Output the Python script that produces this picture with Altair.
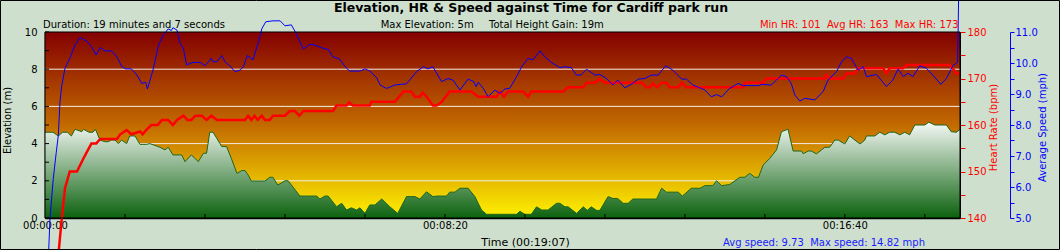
import altair as alt
import pandas as pd

W, H = 915, 186
X_MAX = 1144
FONT = "DejaVu Sans"

# ---------------- data ----------------
elev_t = [0, 10, 16.7, 22, 28, 33, 37.5, 46, 48, 55, 60, 63, 68.75, 75, 79, 83, 87.5, 91.7, 95.8, 102,
          106, 112.5, 118.75, 127, 131, 137.5, 143.75, 150, 154, 160, 171, 175, 183, 191.7, 198, 202,
          206, 210, 214.6, 221, 227, 233, 240, 246, 250, 254, 258, 275, 281, 285, 291, 300, 304,
          318.75, 339.6, 343.75, 350, 354, 364.6, 371, 377, 383, 389.6, 393.75, 400, 406, 412.5, 421,
          431, 441, 452, 462.5, 468.75, 477, 485, 489.6, 502, 506, 512.5, 518.75, 529, 537.5, 545.8,
          552, 589.6, 593.75, 600, 608, 614.6, 621, 629, 639.6, 643.75, 650, 654, 664.6, 673, 678,
          683, 689.6, 693.75, 704, 710, 716, 723, 729, 735, 764.6, 771, 777, 791.7, 797, 808, 819,
          825, 835, 839.6, 846, 856, 868.75, 875, 881, 887.5, 892, 898, 906, 914.6, 920.8, 929,
          935.4, 945.8, 948, 954, 958, 964.6, 975, 981, 987.5, 991.7, 1000, 1006, 1019, 1025, 1027,
          1037.5, 1043.75, 1050, 1056, 1062.5, 1068.75, 1075, 1081, 1087.5, 1100, 1105, 1112.5,
          1127, 1133, 1139.6, 1144]
elev_v = [4.61, 4.61, 4.41, 4.61, 4.61, 4.41, 4.77, 4.64, 4.77, 4.61, 4.61, 4.77, 4.19, 4.1, 4.1, 4.19,
          4.19, 4.0, 4.19, 4.0, 4.41, 4.41, 3.96, 3.96, 4.0, 3.9, 3.8, 3.66, 3.8, 3.39, 3.39, 3.03,
          3.39, 3.03, 3.48, 3.48, 4.61, 4.61, 4.3, 3.84, 3.84, 3.2, 2.4, 2.55, 2.55, 2.31, 1.99, 1.99,
          2.19, 2.19, 1.77, 2.0, 2.0, 1.18, 1.18, 1.02, 1.18, 1.18, 0.61, 0.79, 0.43, 0.55, 0.43,
          0.55, 0.25, 0.7, 0.7, 1.02, 0.61, 0.25, 1.15, 1.15, 1.02, 1.41, 1.15, 1.18, 1.18, 1.39,
          1.39, 1.6, 1.6, 1.15, 0.43, 0.2, 0.2, 0.36, 0.2, 0.2, 0.6, 0.43, 0.43, 0.79, 0.79, 0.6,
          0.6, 0.25, 0.6, 0.41, 0.6, 0.41, 0.41, 1.15, 1.05, 1.05, 0.79, 0.79, 1.02, 1.02, 1.6, 1.39,
          1.39, 1.18, 1.6, 1.6, 1.74, 1.74, 2.0, 1.74, 1.8, 2.19, 2.19, 2.4, 2.19, 2.19, 2.85, 3.2,
          3.66, 4.64, 4.77, 3.6, 3.6, 3.45, 3.6, 3.6, 3.45, 3.8, 3.8, 4.19, 4.19, 3.98, 4.41, 3.98,
          4.19, 4.41, 4.41, 4.61, 4.47, 4.61, 4.61, 4.47, 4.61, 4.47, 5.0, 5.0, 5.15, 5.0, 5.0,
          4.64, 4.61, 4.77]

hr_t = [0, 21, 25, 31, 40, 48, 58, 64, 69, 90, 94, 102, 108, 119, 122, 127, 133, 141, 146, 154, 160,
        165, 173, 178, 183, 188, 196, 202, 208, 215, 250, 254, 258, 262, 266, 271, 275, 281, 285,
        300, 306, 312.5, 318, 323, 360, 364.6, 377, 380, 385, 406, 408, 437.5, 448, 458, 462.5,
        469, 472, 477, 485, 489.6, 496, 506, 533, 541.7, 564.6, 568.75, 573.75, 579, 598, 604, 608,
        648, 654, 673, 677, 687.5, 693, 700, 746, 752, 756, 760, 765, 771, 777, 781, 791.7, 796,
        802, 873, 875, 898, 902, 975, 977, 981, 998, 1002, 1012.5, 1016.7, 1048, 1052, 1056,
        1073, 1077, 1131, 1135, 1139, 1144]
hr_v = [101, 140, 146.4, 150, 150, 152.8, 156, 156, 157, 157, 158, 158.9, 158, 158.6, 158, 159, 160,
        160, 161.1, 161.1, 160, 161.1, 162, 161.1, 161.1, 162, 162, 161.1, 162, 161.1, 161.1, 162,
        161.1, 162, 161.1, 162, 161.1, 161.1, 162, 162, 163, 163, 162, 163, 163, 164.2, 164.2,
        164.9, 164.2, 164.2, 165, 165, 167.2, 167.2, 166.1, 166.1, 167, 166.1, 164.2, 164.2, 165,
        167.2, 167.2, 166.1, 166.1, 167.2, 166.1, 167.2, 167.2, 166.1, 167.2, 167.2, 168.1, 168.1,
        169.1, 169.1, 169.9, 169.1, 169.1, 168.1, 168.1, 169, 168.1, 169.1, 169.1, 168.1, 168.1,
        169.1, 168.1, 168.1, 169.1, 169.1, 170, 170, 170.8, 170, 170, 171.1, 171.1, 172.2, 172.2,
        171.1, 172.2, 172.2, 172.9, 172.9, 172.2, 171.1, 171.1]

spd_t = [0, 6.25, 10.4, 14, 16.7, 18.75, 20.8, 25, 31, 37.5, 43.75, 52, 58, 64, 69, 75, 83, 90, 96,
         101, 108, 115, 121, 126, 128, 135, 142, 148, 154, 158, 160, 165, 169, 173, 177, 185, 194,
         200, 208, 210, 215, 221, 225, 231, 237.5, 244, 248, 253, 260, 267, 271, 276, 285, 294,
         300, 308, 313, 323, 331, 337, 348, 354, 360, 368, 377, 381, 393.75, 400, 406, 414.6, 419,
         427, 437.5, 452, 464.6, 473, 479, 485, 495.8, 504, 510, 518.75, 529, 536, 539, 541.7, 548,
         554, 562.5, 568.75, 575, 581, 589.6, 596, 604, 610, 619, 625, 633, 643.75, 650, 658,
         664.6, 670, 677, 687.5, 693.75, 702, 710, 716, 725, 733, 741.7, 750, 758, 766.7, 776,
         785, 796, 802, 810, 825, 833, 839.6, 846, 856, 866.7, 873, 892, 896, 908, 914.6, 920.8,
         927, 933, 937.5, 943.75, 950, 962.5, 973, 979, 989.6, 996, 1002, 1008, 1016.7, 1023,
         1027, 1039.6, 1052, 1060, 1066.7, 1073, 1079, 1085, 1093.75, 1102, 1110, 1120, 1127,
         1135, 1141, 1144]
spd_v = [1.0, 5.0, 6.28, 7.1, 7.68, 8.75, 9.24, 9.83, 10.15, 10.58, 10.82, 10.71, 10.53, 10.26, 10.5,
         10.39, 10.39, 10.2, 9.88, 9.81, 9.81, 9.61, 9.34, 9.38, 9.16, 9.77, 10.58, 10.9, 11.1,
         11.05, 11.14, 11.06, 10.63, 10.47, 9.94, 10.02, 10.02, 9.91, 10.15, 10.04, 10.04, 10.24,
         10.04, 9.91, 9.72, 9.77, 9.88, 10.24, 10.1, 10.69, 11.1, 11.33, 11.36, 11.36, 11.2, 11.23,
         11.0, 10.45, 10.6, 10.58, 10.47, 10.44, 10.2, 10.13, 9.83, 9.74, 9.74, 9.81, 9.74, 9.53,
         9.29, 9.18, 9.29, 9.33, 9.72, 9.88, 9.81, 9.88, 9.4, 9.5, 9.45, 9.13, 9.48, 9.4, 9.24,
         9.38, 9.18, 8.91, 9.13, 9.02, 9.16, 9.18, 9.56, 9.88, 10.15, 10.1, 10.39, 10.2, 10.02,
         9.85, 9.88, 9.85, 9.61, 9.61, 9.8, 9.61, 9.63, 9.5, 9.29, 9.45, 9.2, 9.31, 9.48, 9.5,
         9.61, 9.61, 9.91, 9.77, 9.48, 9.48, 9.29, 9.13, 8.91, 8.98, 8.91, 9.18, 9.34, 9.27, 9.27,
         9.31, 9.29, 9.45, 9.61, 9.56, 9.34, 8.97, 8.77, 8.86, 8.81, 9.08, 9.45, 9.72, 10.04, 10.2,
         10.15, 9.77, 9.88, 9.56, 9.63, 9.24, 9.45, 9.81, 9.56, 9.67, 9.56, 9.91, 9.83, 9.61, 9.31,
         9.5, 9.91, 10.02, 14.82]

x_label_values = [0, 500, 1000]
x_minor_ticks = [100, 200, 300, 400, 500, 600, 700, 800, 900, 1000, 1100]
elev_grid = [2, 4, 6, 8]
elev_label_values = [0, 2, 4, 6, 8, 10]
elev_minor_ticks = [0, 1, 2, 3, 4, 5, 6, 7, 8, 9, 10]
hr_tick_values = [140, 145, 150, 155, 160, 165, 170, 175, 180]
spd_tick_values = [5.0, 5.5, 6.0, 6.5, 7.0, 7.5, 8.0, 8.5, 9.0, 9.5, 10.0, 10.5, 11.0]

title_text = "Elevation, HR & Speed against Time for Cardiff park run"
duration_text = "Duration: 19 minutes and 7 seconds"
max_elev_text = "Max Elevation: 5m"
gain_text = "Total Height Gain: 19m"
hr_stats_text = "Min HR: 101\u00a0\u00a0Avg HR: 163\u00a0\u00a0Max HR: 173"
speed_stats_text = "Avg speed: 9.73\u00a0\u00a0Max speed: 14.82 mph"
x_title = "Time (00:19:07)"

# ---------------- scales ----------------
x_scale = alt.Scale(domain=[0, X_MAX], nice=False, zero=False)
elev_scale = alt.Scale(domain=[0, 10], nice=False, zero=False)
hr_scale = alt.Scale(domain=[140, 180], nice=False, zero=False)
spd_scale = alt.Scale(domain=[5, 11], nice=False, zero=False)

one = pd.DataFrame({"k": [0]})
elev_df = pd.DataFrame({"t": elev_t, "e": elev_v})
hr_df = pd.DataFrame({"t": hr_t, "hr": hr_v})
spd_df = pd.DataFrame({"t": spd_t, "s": spd_v})

x_axis = alt.Axis(values=x_label_values, labelExpr="utcFormat(datum.value*1000, '%H:%M:%S')",
                  ticks=False, labelPadding=2, labelFlush=False, labelOverlap=False, grid=False,
                  domainColor="black", domainWidth=1.5, labelFont=FONT, labelFontSize=10,
                  labelColor="black", title=x_title, titleFont=FONT, titleFontSize=11,
                  titleFontWeight="normal", titleColor="black", titleX=480, titleY=27,
                  titleAlign="center", titleBaseline="alphabetic")


def X(field):
    return alt.X(field, type="quantitative", scale=x_scale, axis=x_axis)


bg = alt.Chart(one).mark_rect(
    fill=alt.Gradient(gradient="linear", x1=0, x2=0, y1=0, y2=1,
                      stops=[alt.GradientStop(color="#840000", offset=0),
                             alt.GradientStop(color="#c26a00", offset=0.5),
                             alt.GradientStop(color="#fff200", offset=1)])
).encode(x=alt.value(0), x2=alt.value(W), y=alt.value(0), y2=alt.value(H))

grid = alt.Chart(pd.DataFrame({"g": elev_grid})).mark_rule(color="#f2eee6", strokeWidth=1).encode(
    y=alt.Y("g:Q", scale=elev_scale, axis=None), x=alt.value(0), x2=alt.value(W))

area = alt.Chart(elev_df).mark_area(
    color=alt.Gradient(gradient="linear", x1=0, x2=0, y1=0, y2=1,
                       stops=[alt.GradientStop(color="#f6f9f6", offset=0),
                              alt.GradientStop(color="#0c620e", offset=1)])
).encode(
    x=X("t"),
    y=alt.Y("e:Q", scale=elev_scale,
            axis=alt.Axis(orient="left", values=elev_label_values, format="d", ticks=False,
                          labelPadding=8, grid=False, domainColor="black", domainWidth=1.5,
                          labelFont=FONT, labelFontSize=10, labelColor="black",
                          title="Elevation (m)", titleFont=FONT, titleFontSize=10,
                          titleFontWeight="normal", titleColor="black", titleAngle=270,
                          titleX=-38, titleY=88, titleAlign="center", titleBaseline="middle")))

elev_line = alt.Chart(elev_df).mark_line(color="#1f661f", strokeWidth=1).encode(
    x=X("t"), y=alt.Y("e:Q", scale=elev_scale, axis=None))

hr_line = alt.Chart(hr_df).mark_line(color="#ff0000", strokeWidth=2.5).encode(
    x=X("t"),
    y=alt.Y("hr:Q", scale=hr_scale,
            axis=alt.Axis(orient="right", values=hr_tick_values,
                          labelExpr="datum.value % 10 == 0 ? datum.label : ''",
                          tickSize=5, tickColor="#ff0000", domainColor="black", labelPadding=2,
                          labelOverlap=False, grid=False, labelFont=FONT, labelFontSize=10,
                          labelColor="#ff0000", title="Heart Rate (bpm)", titleFont=FONT,
                          titleFontSize=10, titleFontWeight="normal", titleColor="#ff0000",
                          titleAngle=270, titleX=33, titleY=95, titleAlign="center",
                          titleBaseline="middle")))

spd_line = alt.Chart(spd_df).mark_line(color="#0000ff", strokeWidth=1).encode(
    x=X("t"),
    y=alt.Y("s:Q", scale=spd_scale,
            axis=alt.Axis(orient="right", offset=50, values=spd_tick_values, format=".1f",
                          labelExpr="datum.value % 1 == 0 ? datum.label : ''",
                          tickSize=4, tickColor="#0000ff", domainColor="#0000ff", labelPadding=1,
                          labelOverlap=False, grid=False, labelFont=FONT, labelFontSize=10,
                          labelColor="#0000ff", title="Average Speed (mph)", titleFont=FONT,
                          titleFontSize=10, titleFontWeight="normal", titleColor="#0000ff",
                          titleAngle=270, titleX=32, titleY=95, titleAlign="center",
                          titleBaseline="middle")))

left_ticks = alt.Chart(pd.DataFrame({"v": elev_minor_ticks})).mark_rule(color="black").encode(
    y=alt.Y("v:Q", scale=elev_scale, axis=None), x=alt.value(0), x2=alt.value(4))

bottom_ticks = alt.Chart(pd.DataFrame({"t": x_minor_ticks})).mark_rule(color="black").encode(
    x=X("t"), y=alt.value(H), y2=alt.value(H - 4))

plot_border = alt.Chart(one).mark_rect(fill="transparent", stroke="black", strokeWidth=1).encode(
    x=alt.value(0), x2=alt.value(W), y=alt.value(0), y2=alt.value(H))

outer_border = alt.Chart(one).mark_rect(fill="transparent", stroke="black", strokeWidth=1).encode(
    x=alt.value(-44.5), x2=alt.value(1014.5), y=alt.value(-31.5), y2=alt.value(217.5))


def label(txt, x, y, size=10, color="black", align="left", weight="normal"):
    return alt.Chart(one).mark_text(font=FONT, fontSize=size, color=color, align=align,
                                    baseline="alphabetic", fontWeight=weight).encode(
        x=alt.value(x), y=alt.value(y), text=alt.value(txt))


texts = [
    label(title_text, 486, -20, size=12.5, align="center", weight="bold"),
    label(duration_text, -2, -4.5),
    label(max_elev_text, 335.7, -4.5),
    label(gain_text, 444, -4.5),
    label(hr_stats_text, 913.5, -4.5, color="#ff0000", align="right"),
    label(speed_stats_text, 880, 213.5, color="#1a1aff", align="right"),
]

chart = alt.layer(bg, grid, area, elev_line, hr_line, spd_line, left_ticks, bottom_ticks,
                  plot_border, outer_border, *texts).resolve_scale(y="independent").properties(
    width=W, height=H, background="#cee0cd",
    padding={"left": 45, "top": 32, "right": 100, "bottom": 32},
    autosize=alt.AutoSizeParams(type="none"),
).configure_view(stroke="transparent")

chart.save("out.html", embed_options={"renderer": "svg", "actions": False})
